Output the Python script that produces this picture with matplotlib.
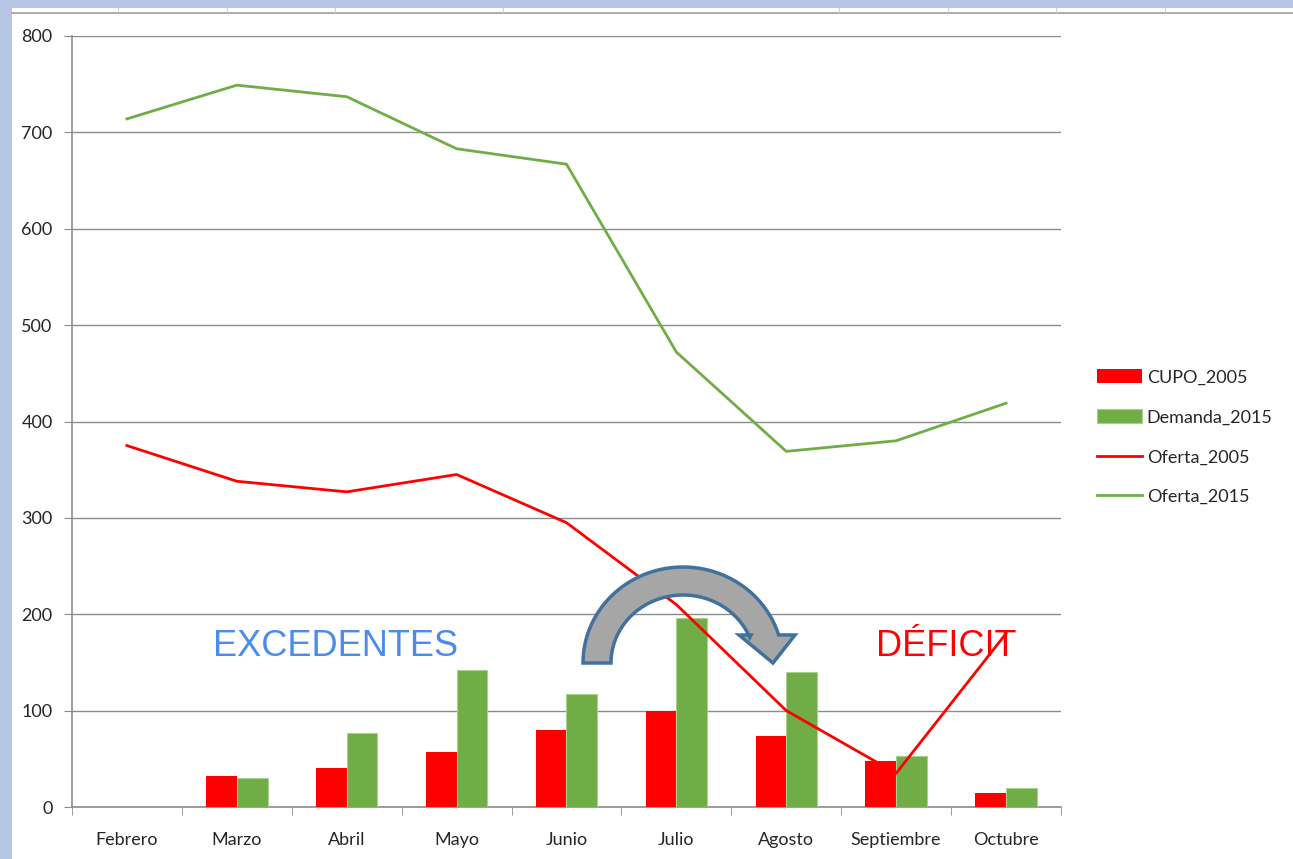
import numpy as np
import matplotlib.pyplot as plt
from matplotlib.patches import Polygon, Rectangle
from matplotlib.lines import Line2D

# Data
meses = ["Febrero", "Marzo", "Abril", "Mayo", "Junio", "Julio", "Agosto", "Septiembre", "Octubre"]
cupo_2005 = [0, 32, 40, 57, 80, 100, 74, 48, 15]
demanda_2015 = [0, 30, 77, 142, 117, 196, 140, 53, 20]
oferta_2005 = [375, 338, 327, 345, 295, 210, 100, 35, 180]
oferta_2015 = [714, 749, 737, 683, 667, 472, 369, 380, 419]

W, H = 1293, 859
fig = plt.figure(figsize=(W / 100, H / 100), dpi=100)
fig.patch.set_facecolor("#b8c6e6")
plt.rcParams["font.family"] = ["Lato", "DejaVu Sans"]

def px(x, y):
    return (x / W, 1 - y / H)

# white sheet + top strip
fig.patches.append(Rectangle(px(12, H), (W - 12) / W, (H - 8) / H,
                             transform=fig.transFigure, facecolor="white",
                             edgecolor="none", zorder=-10))
fig.lines.append(Line2D([12 / W, 1], [1 - 12.5 / H] * 2, transform=fig.transFigure,
                        color="#a0a0a0", lw=1.2, zorder=-5))
for xd in [118, 227, 335, 503, 839, 948, 1056, 1165]:
    fig.lines.append(Line2D([xd / W] * 2, [1 - 8 / H, 1 - 12 / H], transform=fig.transFigure,
                            color="#d0d0d0", lw=0.8, zorder=-5))

ax = fig.add_axes([72 / W, 1 - 807 / H, (1061 - 72) / W, (807 - 36) / H])
ax.set_facecolor("white")

x = np.arange(len(meses))
bw = 0.28
b1 = ax.bar(x - bw / 2, cupo_2005, bw, color="#ff0000", label="CUPO_2005", zorder=3)
b2 = ax.bar(x + bw / 2, demanda_2015, bw, color="#70ad47", edgecolor="#a9d18e", linewidth=0.8,
            label="Demanda_2015", zorder=3)
l1, = ax.plot(x, oferta_2005, color="#ff0000", lw=2, label="Oferta_2005", zorder=4)
l2, = ax.plot(x, oferta_2015, color="#70ad47", lw=2, label="Oferta_2015", zorder=4)

ax.set_xlim(-0.5, len(meses) - 0.5)
ax.set_ylim(0, 800)
ax.set_yticks(np.arange(0, 801, 100))
ax.grid(axis="y", color="#8c8c8c", lw=1, zorder=0)
ax.set_xticks(x)
ax.set_xticklabels(meses)
ax.set_xticks(np.arange(-0.5, len(meses), 1), minor=True)
ax.tick_params(axis="x", which="major", length=0, pad=18, labelsize=13, labelcolor="#262626")
ax.tick_params(axis="x", which="minor", length=6, color="#8c8c8c")
ax.tick_params(axis="y", length=6, color="#8c8c8c", labelsize=13, labelcolor="#262626", pad=8)
for s in ["top", "right"]:
    ax.spines[s].set_visible(False)
for s in ["left", "bottom"]:
    ax.spines[s].set_color("#8c8c8c")
    ax.spines[s].set_linewidth(1.2)

leg = fig.legend([b1, b2, l1, l2], ["CUPO_2005", "Demanda_2015", "Oferta_2005", "Oferta_2015"],
                 loc="upper left", bbox_to_anchor=(1097 / W, 1 - 369 / H), frameon=False,
                 fontsize=13, handlelength=2.5, handleheight=0.85, labelspacing=1.3,
                 handletextpad=0.25, borderaxespad=0, borderpad=0)
for t in leg.get_texts():
    t.set_color("#262626")

# annotations
fig.text(*px(335, 646), "EXCEDENTES", color="#4a8bed", fontsize=26, ha="center", va="center",
         family="Liberation Sans")
fig.text(*px(946, 646), "DÉFICIT", color="#ff0000", fontsize=26, ha="center", va="center",
         family="Liberation Sans")

# curved arrow
cx, cy = 683, 663
ang = np.linspace(np.pi, np.deg2rad(17), 60)
outer = [(cx + 100 * np.cos(a), cy - 96 * np.sin(a)) for a in ang]
ang2 = np.linspace(np.deg2rad(22), np.pi, 60)
inner = [(cx + 72 * np.cos(a), cy - 68 * np.sin(a)) for a in ang2]
head = [(795, 635), (773, 663), (739, 635), (751, 635)]
pts = outer + head + inner
pts = [px(a, b) for a, b in pts]
fig.patches.append(Polygon(pts, closed=True, transform=fig.transFigure, facecolor="#a6a6a6",
                           edgecolor="#41719c", lw=2.5, zorder=10))

fig.savefig("out.png", dpi=100, facecolor=fig.get_facecolor())
